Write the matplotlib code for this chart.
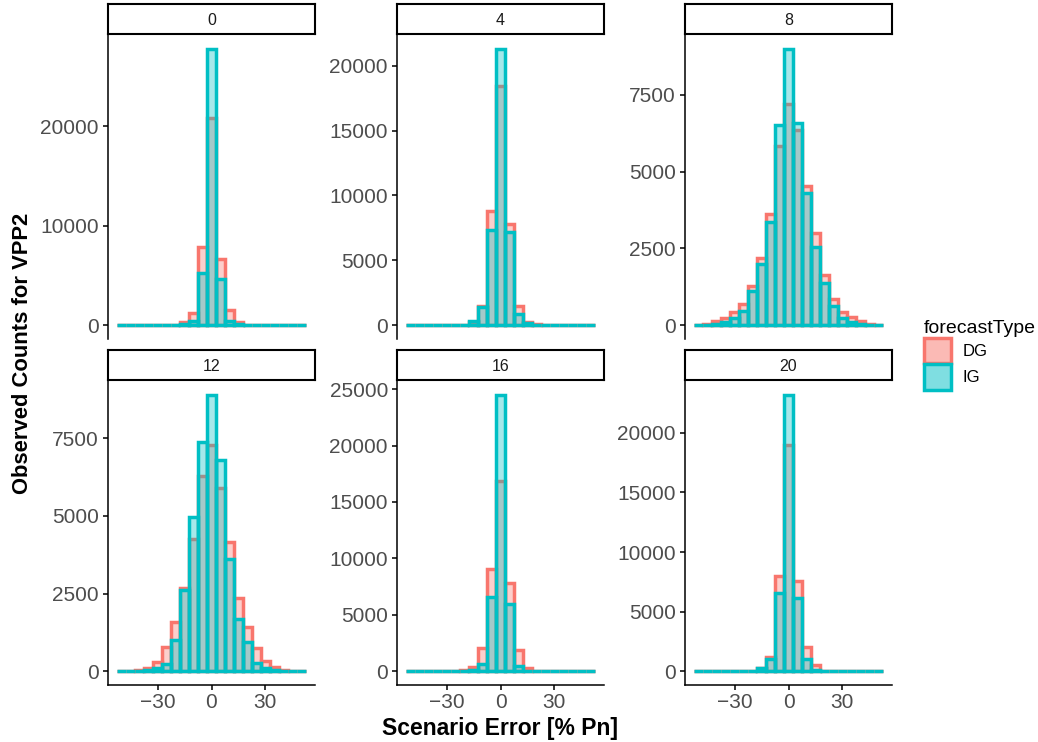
import numpy as np
import matplotlib
matplotlib.use("Agg")
import matplotlib.pyplot as plt
from matplotlib.patches import Patch
from matplotlib.ticker import MultipleLocator

plt.rcParams['font.family'] = ['Liberation Sans', 'DejaVu Sans']

# bin centres of the histograms (% Pn), width 5
bins = [-50, -45, -40, -35, -30, -25, -20, -15, -10, -5, 0, 5, 10, 15, 20, 25, 30, 35, 40, 45, 50]
leads = ['0', '4', '8', '12', '16', '20']

dg_0 = [0, 0, 0, 0, 0, 10, 50, 300, 1200, 7900, 20800, 6700, 1500, 300, 50, 10, 0, 0, 0, 0, 0]
ig_0 = [0, 0, 0, 0, 0, 0, 20, 100, 400, 5200, 27800, 4600, 400, 100, 20, 0, 0, 0, 0, 0, 0]
dg_4 = [0, 0, 0, 0, 0, 10, 50, 250, 1470, 8800, 18400, 7800, 1470, 250, 60, 10, 0, 0, 0, 0, 0]
ig_4 = [0, 0, 0, 0, 0, 10, 40, 300, 1400, 7300, 21300, 7200, 900, 150, 30, 0, 0, 0, 0, 0, 0]
dg_8 = [10, 50, 130, 230, 420, 680, 1270, 2180, 3620, 5830, 7200, 6360, 4530, 3000, 1630, 850, 420, 260, 130, 50, 10]
ig_8 = [5, 20, 50, 100, 230, 460, 1110, 1990, 3360, 6520, 9000, 6580, 4300, 2540, 1370, 620, 230, 100, 50, 20, 5]
dg_12 = [10, 20, 50, 100, 290, 780, 1590, 2690, 4250, 6270, 7300, 5910, 4150, 2370, 1430, 750, 320, 150, 50, 20, 10]
ig_12 = [0, 5, 10, 30, 100, 230, 1010, 2630, 4970, 7370, 8900, 6790, 3600, 1690, 940, 260, 100, 30, 10, 5, 0]
dg_16 = [0, 0, 0, 0, 10, 30, 100, 350, 2050, 9070, 16900, 7830, 1870, 270, 50, 10, 0, 0, 0, 0, 0]
ig_16 = [0, 0, 0, 0, 0, 10, 30, 100, 620, 6580, 24500, 5960, 440, 50, 10, 0, 0, 0, 0, 0, 0]
dg_20 = [0, 0, 0, 0, 0, 10, 50, 250, 1180, 7980, 19000, 7560, 2020, 500, 50, 10, 0, 0, 0, 0, 0]
ig_20 = [0, 0, 0, 0, 0, 10, 30, 270, 1000, 6550, 23200, 6130, 1000, 100, 20, 0, 0, 0, 0, 0, 0]

dg_all = [dg_0, dg_4, dg_8, dg_12, dg_16, dg_20]
ig_all = [ig_0, ig_4, ig_8, ig_12, ig_16, ig_20]
ystep = [10000, 5000, 2500, 2500, 5000, 5000]

DG_COL = '#F8766D'
IG_COL = '#00BFC4'
FILL_A = 0.35
W, H = 1038, 742

fig = plt.figure(figsize=(W / 100, H / 100), dpi=100)

col_left = [108, 397, 685]
pan_w = 207
row_top = [35, 381]
pan_h = 304
strip_h = 30

for i in range(6):
    r, c = divmod(i, 3)
    x0 = col_left[c]
    y0 = row_top[r]
    ax = fig.add_axes([x0 / W, 1 - (y0 + pan_h) / H, pan_w / W, pan_h / H])
    sax = fig.add_axes([x0 / W, 1 - (y0 - 1) / H, pan_w / W, strip_h / H])
    sax.set_xticks([])
    sax.set_yticks([])
    for s in sax.spines.values():
        s.set_linewidth(1.5)
    sax.text(0.5, 0.45, leads[i], ha='center', va='center', fontsize=11.5, color='#1A1A1A',
             transform=sax.transAxes)

    ax.bar(bins, dg_all[i], width=5, facecolor=matplotlib.colors.to_rgba(DG_COL, FILL_A),
           edgecolor=DG_COL, linewidth=2.5, zorder=2)
    ax.bar(bins, ig_all[i], width=5, facecolor=matplotlib.colors.to_rgba(IG_COL, FILL_A),
           edgecolor=IG_COL, linewidth=2.5, zorder=3)

    ymax = max(max(dg_all[i]), max(ig_all[i]))
    ax.set_xlim(-57.75, 57.75)
    ax.set_ylim(-0.05 * ymax, 1.05 * ymax)
    ax.yaxis.set_major_locator(MultipleLocator(ystep[i]))
    ax.spines['top'].set_visible(False)
    ax.spines['right'].set_visible(False)
    ax.spines['left'].set_linewidth(1.1)
    ax.tick_params(axis='y', labelsize=15, labelcolor='#4D4D4D', length=3.5, width=1.1, pad=3)
    if r == 0:
        ax.spines['bottom'].set_visible(False)
        ax.set_xticks([])
    else:
        ax.spines['bottom'].set_linewidth(1.1)
        ax.set_xticks([-30, 0, 30])
        ax.tick_params(axis='x', labelsize=15, labelcolor='#4D4D4D', length=3.5, width=1.1, pad=2)

fig.text(23 / W, 1 - 353 / H, 'Observed Counts for VPP2', rotation=90, ha='center', va='center',
         fontsize=15.8, fontweight='bold')
fig.text(500 / W, 1 - 728 / H, 'Scenario Error [% Pn]', ha='center', va='center',
         fontsize=16.5, fontweight='bold')

handles = [Patch(facecolor=matplotlib.colors.to_rgba(DG_COL, 0.5), edgecolor=DG_COL, linewidth=2.5),
           Patch(facecolor=matplotlib.colors.to_rgba(IG_COL, 0.5), edgecolor=IG_COL, linewidth=2.5)]
leg = fig.legend(handles, ['DG', 'IG'], title='forecastType', loc='upper left',
                 bbox_to_anchor=(912 / W, 1 - 308 / H), frameon=False, fontsize=12,
                 title_fontsize=14, handlelength=1.65, handleheight=2.0, handletextpad=0.7,
                 labelspacing=0.05, borderaxespad=0.3)
leg._legend_box.align = 'left'

fig.savefig('out.png', dpi=100)
